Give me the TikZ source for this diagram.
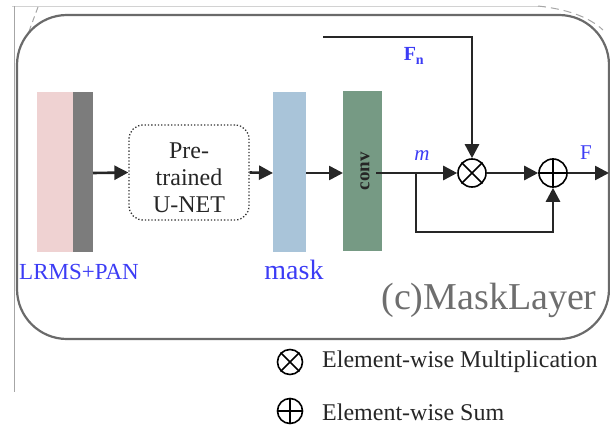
\documentclass[tikz,border=0pt]{standalone}
\usepackage{fontspec}
\setmainfont{Liberation Serif}
\usetikzlibrary{arrows.meta,calc}
\definecolor{pinkc}{HTML}{EFD2D2}
\definecolor{grayc}{HTML}{7C7C7C}
\definecolor{bluec}{HTML}{A9C4D9}
\definecolor{greenc}{HTML}{769A84}
\definecolor{txtblue}{HTML}{3C3CF5}
\definecolor{framec}{HTML}{6A6A6A}
\definecolor{labc}{HTML}{6E6E6E}
\begin{document}
\begin{tikzpicture}[
  bar/.style={rectangle,inner sep=0,outer sep=0,minimum height=160pt},
  conn/.style={line width=2.6pt,draw=black!85},
  arr/.style={conn,-{Triangle[length=14pt,width=14pt]}},
  op/.style={circle,draw=black,line width=1.6pt,minimum size=28pt,inner sep=0},
  lop/.style={circle,draw=black,line width=1.6pt,minimum size=25pt,inner sep=0},
  bluelab/.style={text=txtblue,inner sep=0}]
\begin{scope}[x=1pt,y=-1pt]
\useasboundingbox (0,0) rectangle (610,431);
% background artifacts
\draw[gray!35,line width=0.8pt] (12,6) -- (545,6);
\draw[gray!70,line width=1pt] (14,6) -- (14,392);
\draw[gray!70,line width=1pt,dash pattern=on 6pt off 4pt] (38,7) -- (28,34);
\draw[gray!70,line width=1pt,dash pattern=on 8pt off 5pt] (538,6) .. controls (565,9) and (588,16) .. (603,30);
% main frame
\draw[framec,line width=2.2pt,rounded corners=50pt] (17,15) rectangle (609,339);
% bars
\node[bar,fill=pinkc,minimum width=36pt] (pink) at (55,172) {};
\node[bar,fill=grayc,minimum width=20pt] (gry) at (83,172) {};
\node[bar,fill=bluec,minimum width=33pt] (mask) at (289.5,172) {};
\node[bar,fill=greenc,minimum width=39pt] (conv) at (362.5,171) {};
\node[rotate=90,inner sep=0,font=\fontsize{19}{19}\selectfont\bfseries,text=black!85] (convt) at (365,171) {conv};
% unet
\node[draw=black!80,dotted,line width=1.3pt,rounded corners=14pt,minimum width=120pt,minimum height=95pt,inner sep=0] (unet) at (189,172.5) {};
\node[align=center,font=\fontsize{24}{27}\selectfont,text=black!85,inner sep=0] (unett) at (189,178) {Pre-\\trained\\U-NET};
% operators
\node[op] (mul) at (472,173) {};
\draw[line width=1.6pt] (mul.45) -- (mul.225) (mul.135) -- (mul.315);
\node[op] (add) at (553,173) {};
\draw[line width=1.6pt] (add.north) -- (add.south) (add.east) -- (add.west);
% coordinates
\coordinate (fnstart) at (323,37);
\coordinate (fncorner) at (472,37);
\coordinate (br) at (416,173);
\coordinate (brlow) at (416,232);
\coordinate (out) at (609,173);
\coordinate (convout) at (376,173);
% connectors
\draw[arr] (gry.east |- 0,173) -- (unet.west);
\draw[arr] (unet.east) -- (mask.west |- 0,173);
\draw[arr] (mask.east |- 0,173) -- (conv.west |- 0,173);
\draw[arr] (convout) -- (mul.west);
\draw[arr] (mul.east) -- (add.west);
\draw[arr] (add.east) -- (out);
\draw[arr] (fnstart) -- (fncorner) -- (mul.north);
\draw[arr] (br) -- (brlow) -| (add.south);
% labels
\node[bluelab,font=\fontsize{23}{23}\selectfont] (lrms) at (79,272) {LRMS+PAN};
\node[bluelab,font=\fontsize{28}{28}\selectfont] (masklab) at (294,270) {mask};
\node[bluelab,font=\fontsize{21}{21}\selectfont\itshape] (mlab) at (422,156) {m};
\node[bluelab,font=\fontsize{21}{21}\selectfont] (flab) at (586,153) {F};
\node[bluelab,font=\fontsize{20}{20}\selectfont\bfseries] (fnlab) at (414,56) {F$_{\mathbf{n}}$};
\node[text=labc,font=\fontsize{38}{38}\selectfont,inner sep=0] (title) at (489,300) {(c)MaskLayer};
% legend
\node[lop] (lmul) at (290,362) {};
\draw[line width=1.6pt] (lmul.45) -- (lmul.225) (lmul.135) -- (lmul.315);
\node[lop] (ladd) at (290,411) {};
\draw[line width=1.6pt] (ladd.north) -- (ladd.south) (ladd.east) -- (ladd.west);
\node[anchor=west,inner sep=0,text=black!85,font=\fontsize{24}{24}\selectfont] (lmultxt) at (322,362) {Element-wise Multiplication};
\node[anchor=west,inner sep=0,text=black!85,font=\fontsize{24}{24}\selectfont] (laddtxt) at (322,412) {Element-wise Sum};
\end{scope}
\end{tikzpicture}
\end{document}
